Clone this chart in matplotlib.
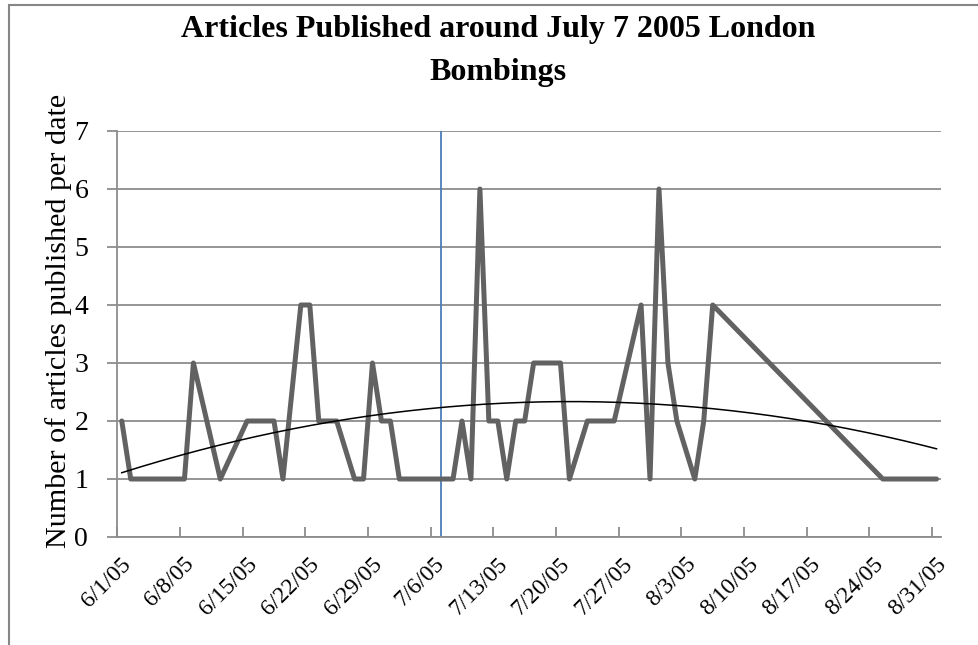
import numpy as np
import matplotlib
matplotlib.use("Agg")
import matplotlib.pyplot as plt
import matplotlib.transforms as mtransforms
from matplotlib.patches import Rectangle

# Data: day offset from 6/1/05 -> articles published
days = [0, 1, 2, 3, 4, 5, 6, 7, 8, 11, 14, 17, 18, 20, 21, 22, 24, 26, 27, 28,
        29, 30, 31, 33, 35, 37, 38, 39, 40, 41, 42, 43, 44, 45,
        46, 49, 50, 52, 55, 58, 59, 60, 61, 62, 64, 65, 66, 85, 91]
counts = [2, 1, 1, 1, 1, 1, 1, 1, 3, 1, 2, 2, 1, 4, 4, 2, 2, 1, 1, 3,
          2, 2, 1, 1, 1, 1, 2, 1, 6, 2, 2, 1, 2, 2,
          3, 3, 1, 2, 2, 4, 1, 6, 3, 2, 1, 2, 4, 1, 1]
tick_labels = ["6/1/05", "6/8/05", "6/15/05", "6/22/05", "6/29/05", "7/6/05",
               "7/13/05", "7/20/05", "7/27/05", "8/3/05", "8/10/05", "8/17/05",
               "8/24/05", "8/31/05"]
event_day = 36  # 7/7/05

plt.rcParams['font.family'] = ['Liberation Serif', 'DejaVu Serif']

fig = plt.figure(figsize=(9.79, 6.45), dpi=100)
fig.patches.append(Rectangle((9/979, -0.1), 1.2, (640.5/645) + 0.1, transform=fig.transFigure,
                             fill=False, edgecolor='#868686', linewidth=1.5))

ax = fig.add_axes([117.3/979, 1-537/645, (941-117.3)/979, (537-131)/645])

x = np.array(days, dtype=float)
y = np.array(counts, dtype=float)

ax.plot(x, y, color='#626262', linewidth=3.6, solid_joinstyle='round',
        solid_capstyle='round', zorder=3)

coef = np.polyfit(x, y, 2)
xt = np.linspace(0, 91, 300)
ax.plot(xt, np.polyval(coef, xt), color='black', linewidth=1.1, zorder=4)

ax.axvline(event_day - 0.3, color='#4a7ebb', linewidth=1.3, zorder=2)

ax.set_xlim(-0.5, 91.5)
ax.set_ylim(0, 7)
ax.set_yticks(range(0, 8))
ax.yaxis.grid(True, color='#8c8c8c', linewidth=1.3)
ax.set_axisbelow(True)

ticks = [-0.5 + 7 * k for k in range(len(tick_labels))]
ax.set_xticks(ticks)
ax.set_xticklabels([])
trans = mtransforms.blended_transform_factory(ax.transData, ax.transAxes) + \
    mtransforms.ScaledTranslation(11/100, -24/100, fig.dpi_scale_trans)
for t, lab in zip(ticks, tick_labels):
    ax.text(t, 0, lab, transform=trans, rotation=45, ha='right', va='center',
            rotation_mode='anchor', fontsize=17, clip_on=False)

ax.tick_params(axis='x', direction='in', length=7, width=1.3, color='#8c8c8c', pad=0)
ax.tick_params(axis='y', direction='out', length=7, width=1.3, color='#8c8c8c',
               labelsize=20, pad=14)

for s in ['top', 'right']:
    ax.spines[s].set_visible(False)
for s in ['left', 'bottom']:
    ax.spines[s].set_color('#8c8c8c')
    ax.spines[s].set_linewidth(1.3)

ax.set_ylabel('Number of articles published per date', fontsize=21.7)
ax.yaxis.set_label_coords(-0.0545, 0.531)
fig.text(498/979, 1-51/645, 'Articles Published around July 7 2005 London\nBombings',
         ha='center', va='center', fontsize=23, fontweight='bold', linespacing=1.6)

fig.savefig('out.png', dpi=100)
